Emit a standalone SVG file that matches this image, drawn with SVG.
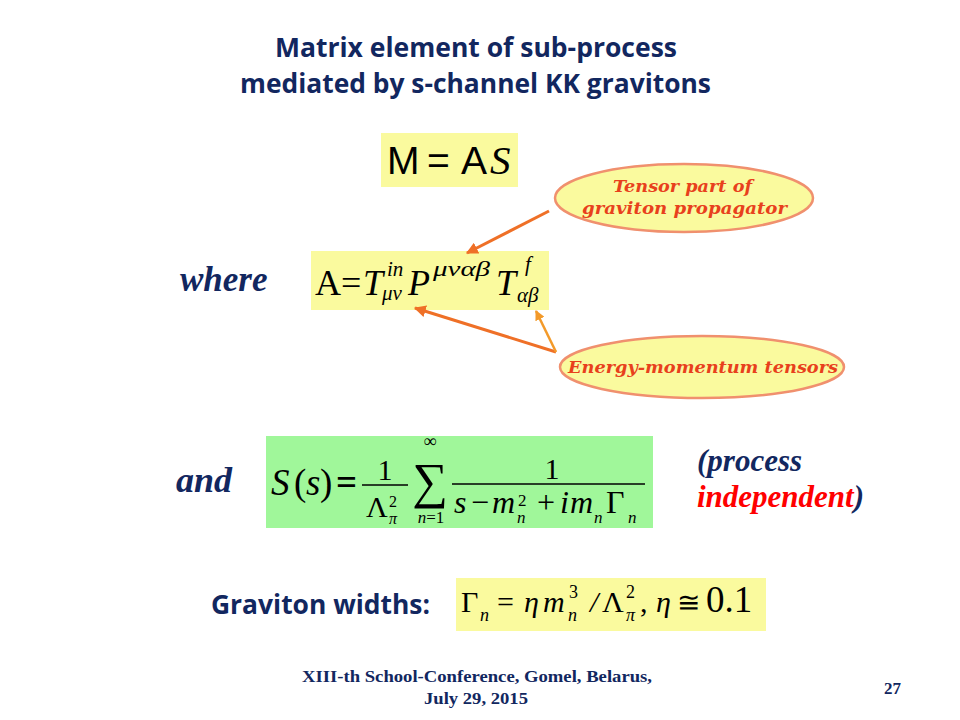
<svg xmlns="http://www.w3.org/2000/svg" width="960" height="720" viewBox="0 0 960 720">
<style>
.title{font-family:"Open Sans","Liberation Sans",sans-serif;font-weight:bold;font-size:26px;fill:#12275f}
.ital{font-family:"Liberation Serif",serif;font-style:italic;font-weight:bold;fill:#12275f}
.eq{font-family:"Liberation Serif",serif;fill:#000}
.sans{font-family:"Liberation Sans",sans-serif;fill:#000}
.it{font-style:italic}
.lbl{font-family:"DejaVu Serif","Liberation Serif",serif;font-style:italic;font-weight:bold;font-size:17px;fill:#e8401c}
.foot{font-family:"Liberation Serif",serif;font-weight:bold;font-size:17px;fill:#12275f}
.ybox{fill:#fafa9e}
.gbox{fill:#a0f79a}
.ell{fill:#fafa9e;stroke:#f0906e;stroke-width:2.5}
.arr{stroke:#ef7027;stroke-width:3;fill:none}
.arr2{stroke:#f39a2a;stroke-width:2.5;fill:none}
.frac{stroke:#000;stroke-width:1.5}
</style>
<defs>
<marker id="ah" viewBox="0 0 10 10" refX="9" refY="5" markerWidth="4" markerHeight="4" orient="auto"><path d="M0,0 L10,5 L0,10 z" fill="#ef7027"/></marker>
<marker id="ah2" viewBox="0 0 10 10" refX="9" refY="5" markerWidth="4" markerHeight="4" orient="auto"><path d="M0,0 L10,5 L0,10 z" fill="#f39a2a"/></marker>
</defs>
<rect width="960" height="720" fill="#fff"/>
<g id="title">
<text class="title" x="275" y="57" textLength="402" lengthAdjust="spacingAndGlyphs">Matrix element of sub-process</text>
<text class="title" x="240" y="93" textLength="471" lengthAdjust="spacingAndGlyphs">mediated by s-channel KK gravitons</text>
</g>
<g id="eqM">
<rect class="ybox" x="381" y="133" width="137" height="54"/>
<text class="sans" x="387" y="174" font-size="39">M</text>
<text class="sans" x="427" y="174" font-size="39">=</text>
<text class="sans" x="461" y="174" font-size="39">A</text>
<text class="eq it" x="490" y="174" font-size="41">S</text>
</g>
<g id="eqA">
<rect class="ybox" x="311" y="251" width="238" height="59"/>
<text class="eq" x="315" y="295" font-size="36">A</text>
<text class="eq" x="341" y="295" font-size="36">=</text>
<text class="eq it" x="363" y="295" font-size="36">T</text>
<text class="eq it" x="387" y="276" font-size="21">in</text>
<text class="eq it" x="382" y="300" font-size="21">μν</text>
<text class="eq it" x="408" y="295" font-size="36">P</text>
<text class="eq it" x="433" y="276" font-size="21" textLength="57" lengthAdjust="spacingAndGlyphs">μναβ</text>
<text class="eq it" x="496" y="295" font-size="36">T</text>
<text class="eq it" x="525" y="271" font-size="21">f</text>
<text class="eq it" x="517" y="302" font-size="21">αβ</text>
</g>
<g id="where"><text class="ital" x="180" y="291" font-size="35">where</text></g>
<g id="lbl1">
<ellipse class="ell" cx="684" cy="198" rx="129" ry="34"/>
<text class="lbl" x="613" y="192" textLength="139" lengthAdjust="spacingAndGlyphs">Tensor part of</text>
<text class="lbl" x="582" y="214" textLength="205" lengthAdjust="spacingAndGlyphs">graviton propagator</text>
</g>
<g id="lbl2">
<ellipse class="ell" cx="702" cy="367" rx="142" ry="31"/>
<text class="lbl" x="568" y="373" textLength="270" lengthAdjust="spacingAndGlyphs">Energy-momentum tensors</text>
</g>
<g id="connectors">
<line class="arr" x1="549" y1="211" x2="467" y2="253" marker-end="url(#ah)"/>
<line class="arr" x1="556" y1="352" x2="415" y2="308" marker-end="url(#ah)"/>
<line class="arr2" x1="556" y1="352" x2="536" y2="311" marker-end="url(#ah2)"/>
</g>
<g id="and"><text class="ital" x="176" y="492" font-size="36">and</text></g>
<g id="eqS">
<rect class="gbox" x="266" y="436" width="387" height="92"/>
<text class="eq it" x="271" y="495" font-size="37">S</text>
<text class="eq" x="294" y="495" font-size="37">(</text>
<text class="eq it" x="306" y="495" font-size="37">s</text>
<text class="eq" x="320" y="495" font-size="37">)</text>
<text class="eq" x="336" y="495" font-size="37" font-weight="bold">=</text>
<text class="eq" x="385" y="480" font-size="30" text-anchor="middle">1</text>
<line class="frac" x1="362" y1="485" x2="408" y2="485"/>
<text class="eq" x="366" y="517" font-size="30">Λ</text>
<text class="eq" x="389" y="507" font-size="16">2</text>
<text class="eq it" x="389" y="524" font-size="16">π</text>
<text class="eq" x="430" y="498" font-size="50" text-anchor="middle">∑</text>
<text class="eq" x="430" y="447" font-size="18" text-anchor="middle">∞</text>
<text class="eq" x="431" y="523" font-size="17" text-anchor="middle"><tspan font-style="italic">n</tspan>=1</text>
<text class="eq" x="552" y="479" font-size="30" text-anchor="middle">1</text>
<line class="frac" x1="452" y1="484" x2="645" y2="484"/>
<text class="eq it" x="454" y="513" font-size="32">s</text>
<text class="eq" x="471" y="513" font-size="32">−</text>
<text class="eq it" x="492" y="513" font-size="32">m</text>
<text class="eq" x="518" y="506" font-size="17">2</text>
<text class="eq it" x="517" y="523" font-size="17">n</text>
<text class="eq" x="537" y="513" font-size="32">+</text>
<text class="eq it" x="560" y="513" font-size="32">i</text>
<text class="eq it" x="570" y="513" font-size="32">m</text>
<text class="eq it" x="594" y="523" font-size="17">n</text>
<text class="eq" x="606" y="513" font-size="32">Γ</text>
<text class="eq it" x="628" y="523" font-size="17">n</text>
</g>
<g id="procindep">
<text class="ital" x="697" y="471" font-size="31">(process</text>
<text class="ital" x="697" y="507" font-size="31"><tspan fill="#ff0000">independent</tspan>)</text>
</g>
<g id="gw"><text class="title" x="211" y="614" textLength="219" lengthAdjust="spacingAndGlyphs">Graviton widths:</text></g>
<g id="eqG">
<rect class="ybox" x="456" y="578" width="310" height="53"/>
<text class="eq" x="461" y="612" font-size="30">Γ</text>
<text class="eq it" x="480" y="621" font-size="18">n</text>
<text class="eq" x="497" y="612" font-size="30">=</text>
<text class="eq it" x="524" y="612" font-size="30">η</text>
<text class="eq it" x="543" y="612" font-size="30">m</text>
<text class="eq" x="569" y="598" font-size="18">3</text>
<text class="eq it" x="568" y="621" font-size="18">n</text>
<text class="eq it" x="590" y="612" font-size="30">/</text>
<text class="eq" x="602" y="612" font-size="30">Λ</text>
<text class="eq" x="626" y="598" font-size="18">2</text>
<text class="eq it" x="626" y="621" font-size="18">π</text>
<text class="eq" x="640" y="612" font-size="30">,</text>
<text class="eq it" x="656" y="612" font-size="30">η</text>
<text class="eq" x="677" y="612" font-size="28">≅</text>
<text class="eq" x="706" y="612" font-size="37">0.1</text>
</g>
<g id="footer">
<text class="foot" x="302" y="682" textLength="350" lengthAdjust="spacingAndGlyphs">XIII-th School-Conference, Gomel, Belarus,</text>
<text class="foot" x="424" y="704" textLength="104" lengthAdjust="spacingAndGlyphs">July 29, 2015</text>
<text class="foot" x="884" y="694">27</text>
</g>
</svg>
